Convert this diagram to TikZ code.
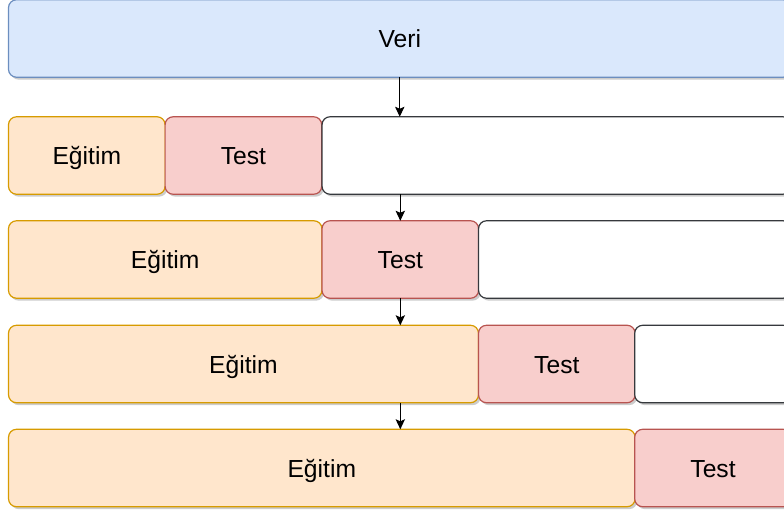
\documentclass[tikz,border=0pt]{standalone}
\usepackage{fontspec}
\setmainfont{Liberation Sans}
\usepackage{xcolor}
\usetikzlibrary{shapes,arrows.meta,shadows}

\definecolor{azulfondo}{HTML}{DAE8FC}
\definecolor{azulborde}{HTML}{6C8EBF}
\definecolor{naranjafondo}{HTML}{FFE6CC}
\definecolor{naranjaborde}{HTML}{D79B00}
\definecolor{rojofondo}{HTML}{F8CECC}
\definecolor{rojoborde}{HTML}{B85450}
\definecolor{grisborde}{HTML}{36393D}

\tikzset{
	caja/.style={rectangle, rounded corners=6pt, line width=0.9pt, inner sep=0pt, outer sep=0pt,
		minimum height=58.1pt, font=\fontsize{18.5}{22}\selectfont,
		text height=13.6pt, text depth=0pt,
		drop shadow={shadow xshift=1.6pt, shadow yshift=-1.8pt, fill=black, opacity=0.2}},
	veri/.style={caja, draw=azulborde, fill=azulfondo},
	egitim/.style={caja, draw=naranjaborde, fill=naranjafondo},
	testbox/.style={caja, draw=rojoborde, fill=rojofondo},
	bos/.style={caja, draw=grisborde, fill=white},
	flecha/.style={line width=0.8pt, -{Stealth[length=7.5pt, width=7pt, inset=1.5pt]}}
}

\begin{document}
\begin{tikzpicture}[x=0.75pt,y=-0.75pt]
	\clip (0,0) rectangle (784,515);
	% datos
	\node[veri, minimum width=586.9pt] (veri) at (399.75,38.5) {Veri};
	% fila 1
	\node[egitim, minimum width=117.45pt] (egitim1) at (86.8,155.5) {Eğitim};
	\node[testbox, minimum width=117.45pt] (test1) at (243.4,155.5) {Test};
	\node[bos, minimum width=351.7pt] (bos1) at (556.5,155.5) {};
	% fila 2
	\node[egitim, minimum width=235.1pt] (egitim2) at (165.2,259.5) {Eğitim};
	\node[testbox, minimum width=117.45pt] (test2) at (400.3,259.5) {Test};
	\node[bos, minimum width=234.4pt] (bos2) at (634.8,259.5) {};
	% fila 3
	\node[egitim, minimum width=352.5pt] (egitim3) at (243.5,364) {Eğitim};
	\node[testbox, minimum width=117.45pt] (test3) at (556.8,364) {Test};
	\node[bos, minimum width=117.45pt] (bos3) at (713,364) {};
	% fila 4
	\node[egitim, minimum width=469.9pt] (egitim4) at (321.8,468) {Eğitim};
	\node[testbox, minimum width=117.45pt] (test4) at (713,468) {Test};
	% flechas
	\draw[flecha] (veri.south) -- (veri.south |- bos1.north);
	\draw[flecha] (test2.north |- bos1.south) -- (test2.north);
	\draw[flecha] (test2.south) -- (test2.south |- egitim3.north);
	\draw[flecha] (test2.south |- egitim3.south) -- (test2.south |- egitim4.north);
\end{tikzpicture}
\end{document}
